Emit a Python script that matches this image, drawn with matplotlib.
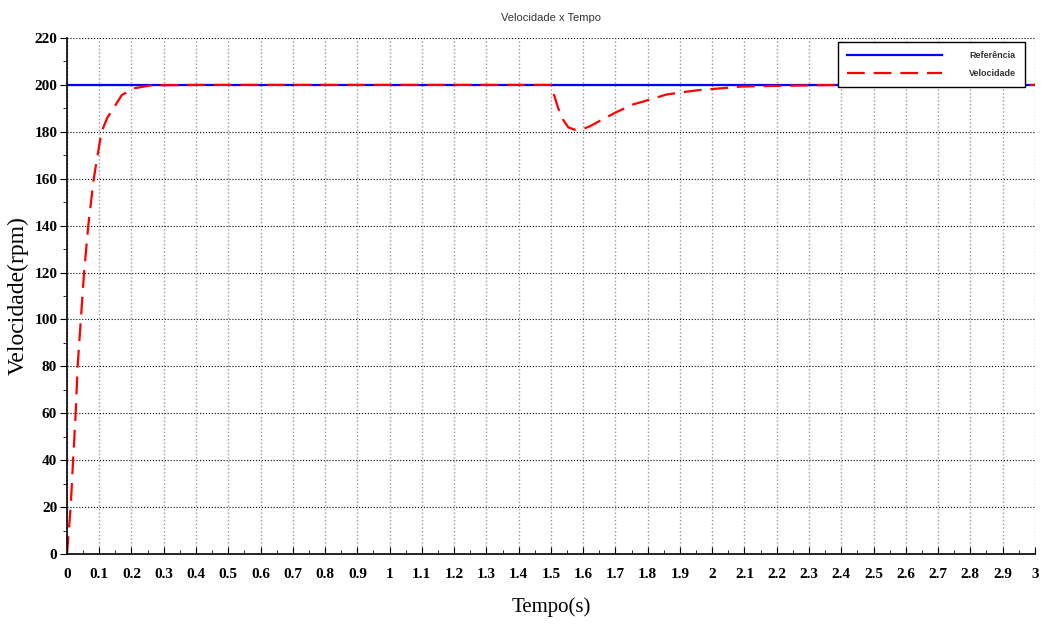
import matplotlib.pyplot as plt
import numpy as np
from matplotlib.ticker import MultipleLocator

# dados
t_ref = [0.0, 3.0]
v_ref = [200, 200]

t_vel = [0.0, 0.0115, 0.019, 0.027, 0.033, 0.043, 0.053, 0.066, 0.083, 0.107,
         0.125, 0.144, 0.17, 0.21, 0.26, 0.4, 1.5,
         1.523, 1.538, 1.554, 1.574, 1.595, 1.62, 1.672, 1.703, 1.755, 1.786,
         1.858, 1.92, 1.96, 2.04, 2.09, 2.2, 2.4, 3.0]
v_vel = [0, 20, 40, 60, 80, 100, 120, 140, 160, 180,
         186, 190, 195.7, 198.6, 199.8, 200, 200,
         189.9, 185.1, 181.9, 180.9, 181.0, 182.3, 186.2, 188.4, 191.7, 192.9,
         195.9, 197.1, 197.8, 198.7, 199.3, 199.6, 200, 200]

xt = np.round(np.arange(0, 3.01, 0.1), 1)
xt_labels = [f'{v:g}' for v in xt]

fig = plt.figure(figsize=(10.43, 6.25), dpi=100)
ax = fig.add_axes([0.0642, 0.1136, 0.928, 0.8256])

ax.plot(t_ref, v_ref, color='#0000ff', lw=1.6, label='Referência')
ax.plot(t_vel, v_vel, color='#ff0000', lw=1.6, dashes=(8, 4), label='Velocidade')

ax.set_xlim(0, 3)
ax.set_ylim(0, 220)
ax.set_xticks(xt, xt_labels)
ax.xaxis.set_minor_locator(MultipleLocator(0.05))
ax.yaxis.set_major_locator(MultipleLocator(20))
ax.yaxis.set_minor_locator(MultipleLocator(10))

ax.grid(axis='x', which='major', color='#999999', linestyle=':', lw=1.0)
ax.grid(axis='y', which='major', color='black', linestyle=':', lw=0.8)

for s in ['top', 'right']:
    ax.spines[s].set_visible(False)
ax.spines['left'].set_linewidth(1.2)
ax.spines['bottom'].set_linewidth(1.2)

ax.tick_params(axis='x', which='major', direction='in', length=5, pad=10)
ax.tick_params(axis='x', which='minor', direction='in', length=3)
ax.tick_params(axis='y', which='major', direction='out', length=5, pad=2)
ax.tick_params(axis='y', which='minor', direction='out', length=3)

for lbl in ax.get_xticklabels() + ax.get_yticklabels():
    lbl.set_fontfamily('Liberation Serif')
    lbl.set_fontweight('bold')
    lbl.set_fontsize(11)

ax.set_xlabel('Tempo(s)', fontfamily='Liberation Serif', fontsize=15, labelpad=12)
ax.set_ylabel('Velocidade(rpm)', fontfamily='Liberation Serif', fontsize=17, labelpad=4)
ax.set_title('Velocidade x Tempo', fontfamily='Liberation Sans', fontsize=8, color='#333333', pad=12)

leg = ax.legend(loc='upper right', bbox_to_anchor=(0.99, 0.992), fancybox=False,
                framealpha=1, edgecolor='black', handlelength=10.5, borderpad=1.0,
                labelspacing=1.0, handletextpad=3.0, borderaxespad=0,
                prop={'family': 'Liberation Sans', 'weight': 'bold', 'size': 6.5})
leg.get_frame().set_linewidth(1.0)
for txt in leg.get_texts():
    txt.set_color('#333333')

fig.savefig('out.png', dpi=100)
